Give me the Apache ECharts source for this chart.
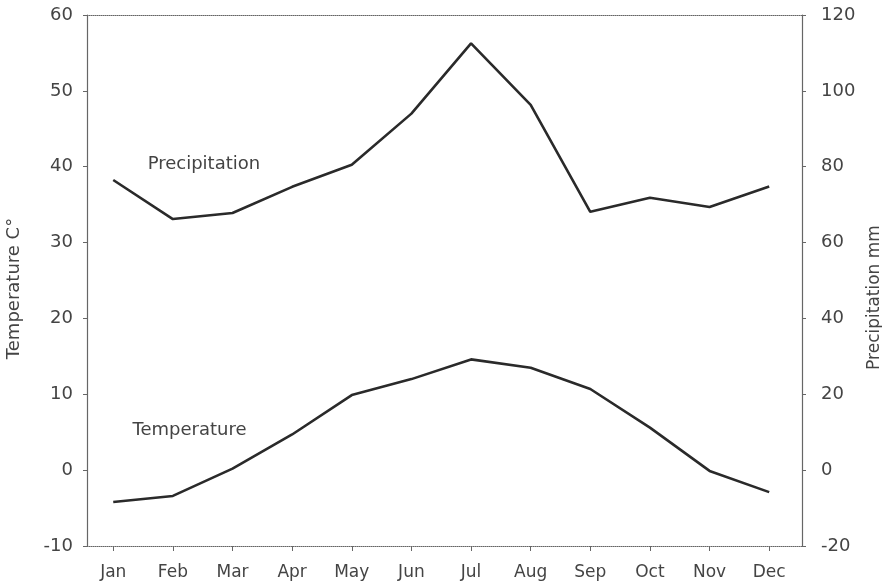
<!DOCTYPE html>
<html>
<head>
<meta charset="utf-8">
<script src="https://cdn.jsdelivr.net/npm/echarts@6/dist/echarts.min.js"></script>
<style>
  html, body { margin: 0; padding: 0; background: #fff; }
  #chart { width: 882px; height: 587px; }
</style>
</head>
<body>
<div id="chart"></div>
<script>
// Monthly climate: mean temperature (left axis) and precipitation (right axis)
const months = ['Jan', 'Feb', 'Mar', 'Apr', 'May', 'Jun', 'Jul', 'Aug', 'Sep', 'Oct', 'Nov', 'Dec'];
const temperature = [-4.2, -3.4, 0.2, 4.7, 9.9, 12.0, 14.6, 13.5, 10.7, 5.6, -0.1, -2.9];
const precipitation = [76.5, 66.2, 67.8, 74.7, 80.5, 94.0, 112.5, 96.3, 68.1, 71.8, 69.4, 74.8];
const tempTicks = [-10, 0, 10, 20, 30, 40, 50, 60];
const precipTicks = [-20, 0, 20, 40, 60, 80, 100, 120];

const monthIdx = months.map((m, i) => i);
const font = 'DejaVu Sans';
const ink = '#444';

// in-plot series captions, placed in data space of their own axes
function caption(text, coord) {
  return {
    symbol: 'circle',
    symbolSize: 1,
    itemStyle: { color: 'rgba(0,0,0,0)' },
    label: { show: true, formatter: text, color: ink, fontFamily: font, fontSize: 18, position: 'inside' },
    data: [{ coord: coord }]
  };
}

const chart = echarts.init(document.getElementById('chart'), null, { renderer: 'canvas' });

chart.setOption({
  backgroundColor: '#fff',
  animation: false,
  grid: { left: 87, right: 80, top: 15, bottom: 41, containLabel: false, outerBoundsMode: 'none' },
  xAxis: [
    {
      type: 'value',
      min: -0.44,
      max: 11.55,
      position: 'bottom',
      splitLine: { show: false },
      axisLine: { show: true, onZero: false, lineStyle: { color: '#666', width: 1, type: 'dotted' } },
      axisTick: { show: true, customValues: monthIdx, length: 5, lineStyle: { color: '#666' } },
      axisLabel: {
        show: true,
        customValues: monthIdx,
        formatter: v => months[Math.round(v)],
        color: ink, fontFamily: font, fontSize: 17, margin: 18
      }
    },
    {
      type: 'value',
      min: -0.44,
      max: 11.55,
      position: 'top',
      splitLine: { show: false },
      axisLine: { show: true, onZero: false, lineStyle: { color: '#666', width: 1, type: 'dotted' } },
      axisTick: { show: false },
      axisLabel: { show: false }
    }
  ],
  yAxis: [
    {
      type: 'value',
      min: tempTicks[0],
      max: tempTicks[tempTicks.length - 1],
      interval: 10,
      position: 'left',
      name: 'Temperature C°',
      nameLocation: 'middle',
      nameRotate: 90,
      nameGap: 64,
      nameTextStyle: { color: ink, fontFamily: font, fontSize: 18, padding: [0, 16, 0, 0] },
      splitLine: { show: false },
      axisLine: { show: true, onZero: false, lineStyle: { color: '#666', width: 1.2 } },
      axisTick: { show: true, length: 4, lineStyle: { color: '#666' } },
      axisLabel: { color: ink, fontFamily: font, fontSize: 18, margin: 14 }
    },
    {
      type: 'value',
      min: precipTicks[0],
      max: precipTicks[precipTicks.length - 1],
      interval: 20,
      position: 'right',
      name: 'Precipitation mm',
      nameLocation: 'middle',
      nameRotate: 90,
      nameGap: 55,
      nameTextStyle: { color: ink, fontFamily: font, fontSize: 17, padding: [0, 34, 0, 0] },
      splitLine: { show: false },
      axisLine: { show: true, onZero: false, lineStyle: { color: '#666', width: 1.2 } },
      axisTick: { show: true, length: 4, lineStyle: { color: '#666' } },
      axisLabel: { color: ink, fontFamily: font, fontSize: 18, margin: 19 }
    }
  ],
  series: [
    {
      name: 'Temperature',
      type: 'line',
      xAxisIndex: 0,
      yAxisIndex: 0,
      data: temperature.map((v, i) => [i, v]),
      symbol: 'none',
      lineStyle: { color: '#2a2a2a', width: 2.6 },
      markPoint: caption('Temperature', [1.28, 5.2])
    },
    {
      name: 'Precipitation',
      type: 'line',
      xAxisIndex: 0,
      yAxisIndex: 1,
      data: precipitation.map((v, i) => [i, v]),
      symbol: 'none',
      lineStyle: { color: '#2a2a2a', width: 2.6 },
      markPoint: caption('Precipitation', [1.52, 80.5])
    }
  ]
});
</script>
</body>
</html>
